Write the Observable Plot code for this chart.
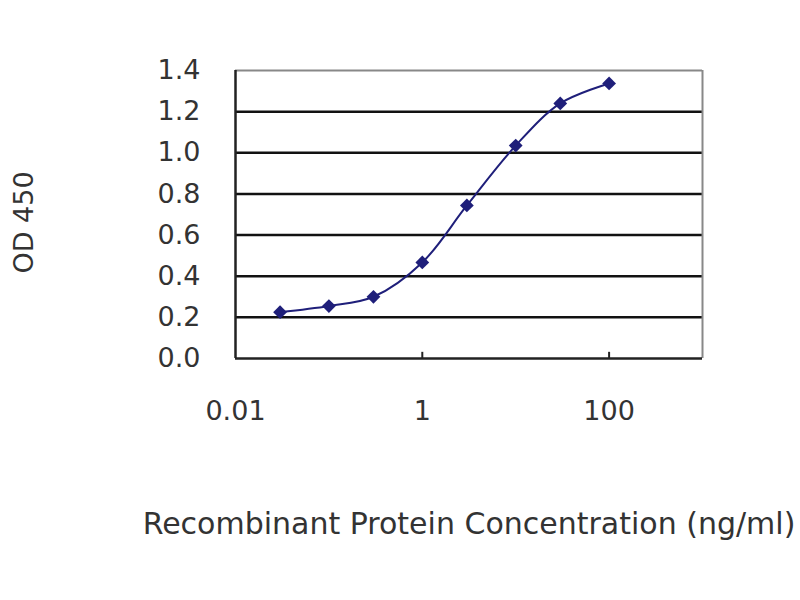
<!DOCTYPE html>
<html>
<head>
<meta charset="utf-8">
<script src="https://cdn.jsdelivr.net/npm/d3@7"></script>
<script src="https://cdn.jsdelivr.net/npm/@observablehq/plot@0.6"></script>
<style>
  html, body { margin: 0; padding: 0; background: #fff; }
</style>
</head>
<body>
<div id="chart"></div>
<script>
const concentrations = [0.03, 0.1, 0.3, 1, 3, 10, 30, 100];
const od450 = [0.225, 0.255, 0.30, 0.467, 0.744, 1.035, 1.24, 1.337];
const xTicks = [0.01, 1, 100];
const yTicks = [0, 0.2, 0.4, 0.6, 0.8, 1.0, 1.2, 1.4];
const gridValues = [0.2, 0.4, 0.6, 0.8, 1.0, 1.2];
const xTitle = "Recombinant Protein Concentration (ng/ml)";
const yTitle = "OD 450";

const data = concentrations.map((c, i) => ({c, od: od450[i]}));
const navy = "#1f1f7a";

const chart = Plot.plot({
  width: 800,
  height: 600,
  marginLeft: 235,
  marginRight: 98,
  marginTop: 70,
  marginBottom: 242,
  x: {type: "log", domain: [0.01, 1000]},
  y: {domain: [0, 1.4]},
  style: {fontFamily: "DejaVu Sans", fontSize: "27px", color: "#333", background: "#fff"},
  marks: [
    Plot.ruleY(gridValues, {stroke: "#111", strokeWidth: 2.5}),
    Plot.ruleY([1.4], {stroke: "#888", strokeWidth: 2}),
    Plot.ruleX([1000], {stroke: "#888", strokeWidth: 2}),
    Plot.ruleX([0.01], {stroke: "#222", strokeWidth: 2.5}),
    Plot.ruleY([0], {stroke: "#222", strokeWidth: 2.5}),
    Plot.ruleX([1, 100], {y1: 0, y2: 0.03, stroke: "#222", strokeWidth: 2}),
    Plot.axisX({ticks: xTicks, tickFormat: d => String(d), tickSize: 0, tickPadding: 42, label: null, fill: "#333"}),
    Plot.axisY({ticks: yTicks, tickFormat: d3.format(".1f"), tickSize: 0, tickPadding: 35, label: null, fill: "#333"}),
    Plot.line(data, {x: "c", y: "od", curve: "catmull-rom", stroke: navy, strokeWidth: 2}),
    Plot.dot(data, {x: "c", y: "od", symbol: "square", rotate: 45, fill: navy, r: 5.5}),
    Plot.text([xTitle], {frameAnchor: "bottom", dy: 175, fontSize: 30, fill: "#333"}),
    Plot.text([yTitle], {frameAnchor: "left", textAnchor: "middle", dx: -211, dy: 8, rotate: -90, fontSize: 27, fill: "#333"})
  ]
});
document.getElementById("chart").appendChild(chart);
</script>
</body>
</html>
